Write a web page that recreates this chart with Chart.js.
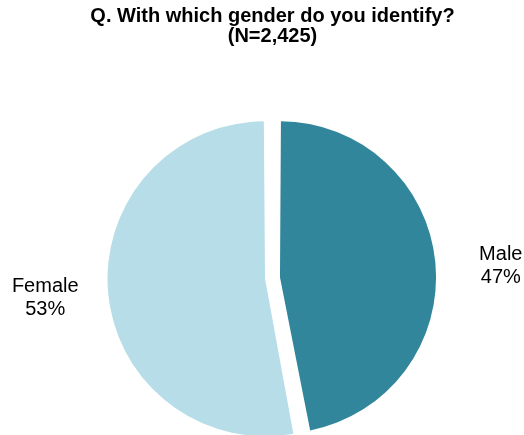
<!DOCTYPE html>
<html>
<head>
<meta charset="utf-8">
<script src="https://cdn.jsdelivr.net/npm/chart.js@4"></script>
<style>
  html, body { margin: 0; padding: 0; background: #fff; }
  #wrap { width: 524px; height: 435px; }
</style>
</head>
<body>
<div id="wrap"><canvas id="genderChart"></canvas></div>
<script>
const titleLines = ["Q. With which gender do you identify?", "(N=2,425)"];
const categories = ["Male", "Female"];
const shares = [47, 53];
const sliceColors = ["#31869b", "#b7dee8"];

// draws "Name / NN%" beside each slice, pushed out along the slice's middle angle
const outsideLabels = {
  id: "outsideLabels",
  afterDatasetsDraw(chart) {
    const ctx = chart.ctx;
    const meta = chart.getDatasetMeta(0);
    ctx.save();
    ctx.font = "20px 'Liberation Sans', Arial, sans-serif";
    ctx.fillStyle = "#000";
    ctx.textAlign = "center";
    ctx.textBaseline = "middle";
    meta.data.forEach((arc, i) => {
      const p = arc.getProps(["x", "y", "startAngle", "endAngle", "outerRadius"], true);
      const mid = (p.startAngle + p.endAngle) / 2;
      const shift = (arc.options.offset || 0) / 4;
      const dx = Math.cos(mid), dy = Math.sin(mid);
      const r = p.outerRadius + shift;
      const ex = p.x + dx * (shift + r);
      const ey = p.y + dy * (shift + r);
      const lx = ex + (dx >= 0 ? 64 : -63);
      const ly = ey + 4;
      ctx.fillText(categories[i], lx, ly - 11.5);
      ctx.fillText(shares[i] + "%", lx, ly + 11.5);
    });
    ctx.restore();
  },
};

new Chart(document.getElementById("genderChart"), {
  type: "pie",
  data: {
    labels: categories,
    datasets: [{
      data: shares,
      backgroundColor: sliceColors,
      borderWidth: 0,
      offset: 30,
    }],
  },
  options: {
    responsive: true,
    maintainAspectRatio: false,
    animation: false,
    radius: 150,
    layout: { padding: { left: 21, right: 0, top: 0, bottom: 0 } },
    plugins: {
      legend: { display: false },
      tooltip: { enabled: false },
      title: {
        display: true,
        text: titleLines,
        color: "#000",
        font: { family: "'Liberation Sans', Arial, sans-serif", size: 20, weight: "bold", lineHeight: 1.0 },
        padding: { top: 6, bottom: 75 },
      },
    },
  },
  plugins: [outsideLabels],
});
</script>
</body>
</html>
